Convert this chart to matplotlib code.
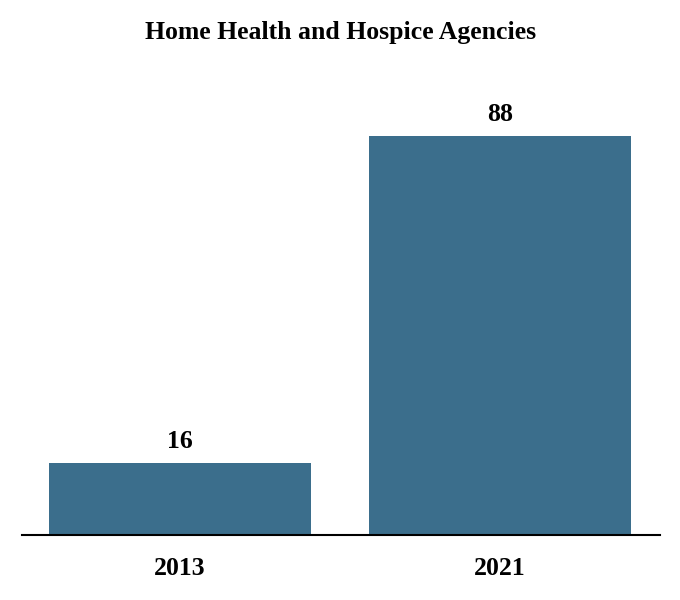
import matplotlib
matplotlib.use("Agg")
import matplotlib.pyplot as plt

categories = ["2013", "2021"]
values = [16, 88]
title = "Home Health and Hospice Agencies"

plt.rcParams['font.family'] = ['Liberation Serif', 'DejaVu Serif']

fig = plt.figure(figsize=(6.8, 6.0), dpi=100)
ax = fig.add_axes([22/680, (600-535)/600, (660-22)/680, (535-82)/600])

x = list(range(len(categories)))
bars = ax.bar(x, values, width=0.82, color="#3b6e8c")
for xi, v in zip(x, values):
    ax.text(xi, v + 2.2, str(v), ha="center", va="bottom", fontsize=18.5, fontweight="bold")

ax.set_xlim(-0.494, 1.5)
ax.set_ylim(0, 100)
ax.set_xticks(x)
ax.set_xticklabels(categories, fontsize=18.5, fontweight="bold")
ax.tick_params(axis="x", length=0, pad=16)
ax.set_yticks([])
for s in ["top", "right", "left"]:
    ax.spines[s].set_visible(False)
ax.spines["bottom"].set_linewidth(1.5)

fig.text(341/680, 1 - 32/600, title, ha="center", va="center", fontsize=18.5, fontweight="bold")

fig.savefig("out.png", dpi=100)
